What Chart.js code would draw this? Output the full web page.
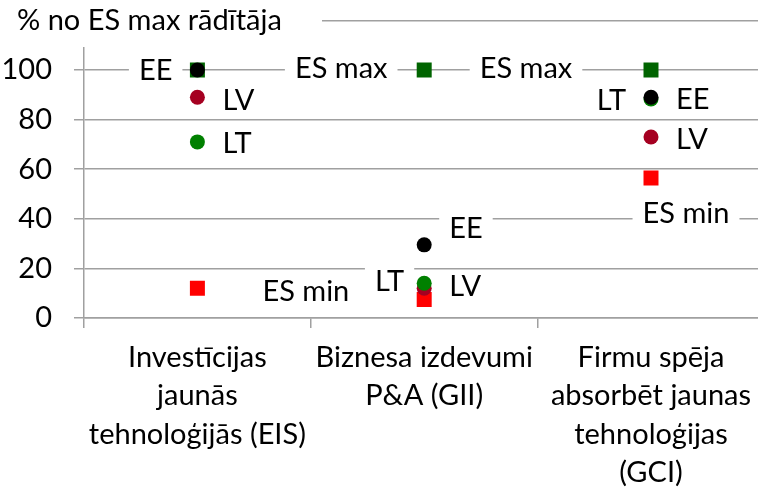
<!DOCTYPE html>
<html>
<head>
<meta charset="utf-8">
<script src="https://cdn.jsdelivr.net/npm/chart.js@4"></script>
<style>
  html, body { margin: 0; padding: 0; background: #fff; overflow: hidden; }
  canvas { display: block; }
</style>
</head>
<body>
<canvas id="chart" width="775" height="492"></canvas>
<script>
// categories and values
const categories = [
  ['Investīcijas', 'jaunās', 'tehnoloģijās (EIS)'],
  ['Biznesa izdevumi', 'P&A (GII)'],
  ['Firmu spēja', 'absorbēt jaunas', 'tehnoloģijas', '(GCI)'],
];
const eeValues = [100, 29.5, 89];
const ltValues = [71, 14, 88.3];
const lvValues = [89, 12, 73];
const esMaxValues = [100, 100, 100];
const esMinValues = [12, 7.5, 56.5];
const yTicks = [0, 20, 40, 60, 80, 100, 120];
const yTitle = '% no ES max rādītāja';

const FONT = 'Lato';
const FSIZE = 29;
const GRID = '#a0a0a0';

// label placement per series (dx, dy in px from the point, align); null = no label
const labelPlacement = {
  'EE':     [{ dx: -25, dy: 0, align: 'right' }, { dx: 25, dy: -17, align: 'left' }, { dx: 25, dy: 1, align: 'left' }],
  'LT':     [{ dx: 25, dy: 1, align: 'left' }, { dx: -20, dy: -3, align: 'right' }, { dx: -25, dy: 1, align: 'right' }],
  'LV':     [{ dx: 25, dy: 2, align: 'left' }, { dx: 25, dy: -3, align: 'left' }, { dx: 25, dy: 2, align: 'left' }],
  'ES max': [null, { dx: -83, dy: -2, align: 'center' }, { dx: -125, dy: -2, align: 'center' }],
  'ES min': [{ dx: 65, dy: 2, align: 'left' }, null, { dx: 35, dy: 35, align: 'center' }],
};

const pointLabels = {
  id: 'pointLabels',
  afterDatasetsDraw(chart) {
    const ctx = chart.ctx;
    ctx.save();
    ctx.font = FSIZE + 'px ' + FONT;
    ctx.textBaseline = 'middle';
    chart.data.datasets.forEach((ds, di) => {
      const meta = chart.getDatasetMeta(di);
      const places = labelPlacement[ds.label];
      meta.data.forEach((pt, i) => {
        const p = places[i];
        if (!p) return;
        const w = ctx.measureText(ds.label).width;
        const x = pt.x + p.dx;
        const left = p.align === 'left' ? x : p.align === 'right' ? x - w : x - w / 2;
        const y = pt.y + p.dy;
        ctx.fillStyle = '#fff';
        ctx.fillRect(left - 10, y - 14, w + 20, 28);
        ctx.fillStyle = '#000';
        ctx.textAlign = 'left';
        ctx.fillText(ds.label, left, y + 1);
      });
    });
    ctx.restore();
  }
};

const titleBox = {
  id: 'titleBox',
  afterDraw(chart) {
    const ctx = chart.ctx;
    ctx.save();
    ctx.fillStyle = '#fff';
    ctx.fillRect(0, 0, 322, 47);
    ctx.fillStyle = '#000';
    ctx.font = FSIZE + 'px ' + FONT;
    ctx.textBaseline = 'middle';
    ctx.textAlign = 'left';
    ctx.fillText(yTitle, 17, 21);
    ctx.restore();
  }
};

const dot = (label, data, color, style, r) => ({
  label, data,
  backgroundColor: color, borderColor: color,
  pointStyle: style, pointRadius: r, pointHoverRadius: r,
  pointBorderWidth: 0, showLine: false,
});

new Chart(document.getElementById('chart'), {
  type: 'line',
  data: {
    labels: categories,
    datasets: [
      dot('EE', eeValues, '#000000', 'circle', 7.5),
      dot('LT', ltValues, '#008000', 'circle', 7.5),
      dot('LV', lvValues, '#a50021', 'circle', 7.5),
      dot('ES max', esMaxValues, '#006400', 'rect', 10.6),
      dot('ES min', esMinValues, '#ff0000', 'rect', 10.6),
    ],
  },
  options: {
    responsive: false,
    animation: false,
    devicePixelRatio: 1,
    layout: { padding: { top: 20.4, right: 0, left: 0, bottom: 0 } },
    plugins: { legend: { display: false }, tooltip: { enabled: false } },
    scales: {
      x: {
        type: 'category',
        offset: true,
        grid: { offset: true, drawOnChartArea: false, drawTicks: true, tickLength: 10, color: GRID, lineWidth: 1.5 },
        border: { display: true, color: GRID, width: 1.5 },
        ticks: { color: '#000', font: { family: FONT, size: FSIZE, lineHeight: 1.33 }, padding: 10, maxRotation: 0, autoSkip: false },
        afterFit(s) { s.height = 174; s.paddingLeft = 0; s.paddingRight = 0; },
      },
      y: {
        min: 0, max: 120,
        afterBuildTicks(s) { s.ticks = yTicks.map(v => ({ value: v })); },
        grid: { color: GRID, lineWidth: 1.5, tickLength: 10 },
        border: { display: true, color: GRID, width: 1.5 },
        ticks: {
          color: '#000', font: { family: FONT, size: FSIZE }, padding: 22,
          callback: v => (v > 100 ? '' : v),
        },
        afterFit(s) { s.width = 84; s.paddingTop = 0; s.paddingBottom = 0; },
      },
    },
  },
  plugins: [pointLabels, titleBox],
});
</script>
</body>
</html>
